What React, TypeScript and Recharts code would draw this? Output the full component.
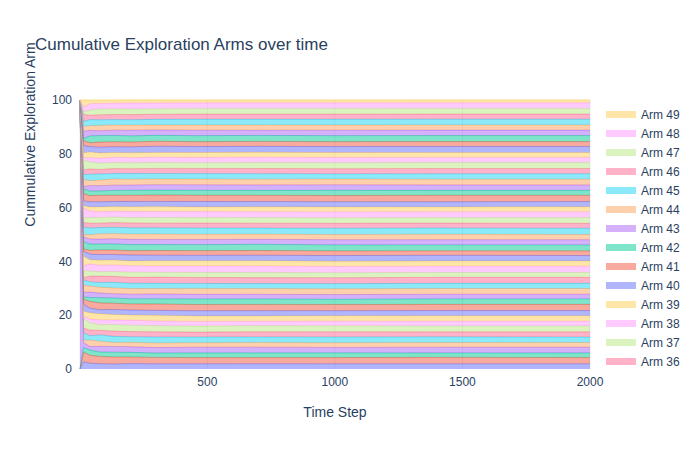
import { Area, AreaChart, CartesianGrid, XAxis, YAxis } from 'recharts'

document.body.style.margin = '0'

const steps = [1, 15, 40, 80, 130, 200, 300, 450, 700, 1000, 1400, 2000]

const arm00 = [0, 3, 2.5, 2.2, 2.0, 2.1, 2.0, 2.0, 2.0, 2.0, 2.0, 2.0]
const arm01 = [0, 4, 3.4, 3.0, 2.8, 2.6, 2.5, 2.4, 2.4, 2.4, 2.5, 2.4]
const arm02 = [0, 2, 2.2, 1.8, 1.9, 1.8, 1.7, 1.8, 1.8, 1.8, 1.7, 1.8]
const arm03 = [100, 2, 1.5, 2.4, 2.3, 2.2, 2.1, 2.2, 2.2, 2.1, 2.2, 2.2]
const arm04 = [0, 1, 2.8, 2.1, 1.6, 1.7, 1.8, 1.7, 1.8, 1.8, 1.8, 1.8]
const arm05 = [0, 3, 1.9, 2.6, 2.4, 2.2, 2.3, 2.2, 2.1, 2.2, 2.2, 2.1]
const arm06 = [0, 2, 2.4, 1.9, 2.1, 2.0, 2.0, 1.9, 2.0, 2.0, 1.9, 2.0]
const arm07 = [0, 4, 3.1, 2.3, 2.6, 2.5, 2.4, 2.3, 2.3, 2.3, 2.3, 2.3]
const arm08 = [0, 1, 1.6, 2.0, 1.8, 1.9, 1.8, 1.8, 1.7, 1.8, 1.8, 1.8]
const arm09 = [0, 2, 2.7, 2.5, 2.2, 2.1, 2.2, 2.1, 2.1, 2.1, 2.1, 2.1]
const arm10 = [0, 3, 2.0, 1.7, 2.0, 1.9, 1.9, 2.0, 2.0, 1.9, 2.0, 2.0]
const arm11 = [0, 2, 2.9, 2.8, 2.5, 2.4, 2.5, 2.4, 2.4, 2.4, 2.4, 2.4]
const arm12 = [0, 1, 1.7, 2.2, 2.1, 2.0, 2.0, 2.1, 2.1, 2.0, 2.1, 2.1]
const arm13 = [0, 2, 2.3, 1.9, 1.7, 1.8, 1.9, 1.8, 1.8, 1.8, 1.8, 1.8]
const arm14 = [0, 3, 2.6, 2.4, 2.3, 2.2, 2.1, 2.2, 2.2, 2.2, 2.2, 2.2]
const arm15 = [0, 2, 1.8, 2.0, 2.2, 2.1, 2.0, 2.0, 1.9, 2.0, 2.0, 2.0]
const arm16 = [0, 1, 2.5, 2.6, 2.4, 2.3, 2.4, 2.3, 2.3, 2.3, 2.3, 2.3]
const arm17 = [0, 3, 2.1, 1.8, 1.9, 2.0, 1.9, 1.9, 2.0, 1.9, 1.9, 1.9]
const arm18 = [0, 2, 3.0, 2.7, 2.6, 2.5, 2.4, 2.5, 2.5, 2.4, 2.4, 2.4]
const arm19 = [0, 4, 1.9, 2.1, 2.0, 1.9, 2.0, 2.0, 2.0, 2.0, 2.0, 2.0]
const arm20 = [0, 2, 2.4, 2.3, 2.2, 2.3, 2.2, 2.1, 2.1, 2.2, 2.2, 2.1]
const arm21 = [0, 1, 1.6, 1.9, 1.8, 1.7, 1.8, 1.8, 1.8, 1.8, 1.7, 1.8]
const arm22 = [0, 3, 2.7, 2.5, 2.4, 2.4, 2.3, 2.3, 2.4, 2.3, 2.3, 2.3]
const arm23 = [0, 2, 2.2, 2.0, 2.1, 2.0, 2.0, 2.0, 1.9, 2.0, 2.0, 2.0]
const arm24 = [0, 1, 1.8, 2.2, 2.0, 2.1, 2.1, 2.0, 2.0, 2.0, 2.1, 2.0]
const arm25 = [0, 3, 2.9, 2.6, 2.5, 2.4, 2.4, 2.4, 2.3, 2.4, 2.4, 2.4]
const arm26 = [0, 2, 2.0, 1.8, 1.9, 1.9, 1.8, 1.9, 1.9, 1.9, 1.9, 1.9]
const arm27 = [0, 2, 2.5, 2.3, 2.2, 2.1, 2.2, 2.1, 2.2, 2.1, 2.1, 2.2]
const arm28 = [0, 4, 2.8, 2.4, 2.3, 2.4, 2.3, 2.3, 2.2, 2.3, 2.3, 2.3]
const arm29 = [0, 1, 1.7, 2.0, 1.9, 1.8, 1.9, 1.8, 1.9, 1.9, 1.8, 1.9]
const arm30 = [0, 2, 2.3, 2.1, 2.0, 2.1, 2.0, 2.1, 2.0, 2.0, 2.0, 2.0]
const arm31 = [0, 3, 2.6, 2.7, 2.5, 2.4, 2.5, 2.4, 2.4, 2.4, 2.5, 2.4]
const arm32 = [0, 2, 1.9, 1.8, 1.9, 2.0, 1.9, 1.9, 1.9, 2.0, 1.9, 1.9]
const arm33 = [0, 1, 2.4, 2.2, 2.1, 2.0, 2.1, 2.1, 2.1, 2.1, 2.1, 2.1]
const arm34 = [0, 3, 2.1, 2.3, 2.4, 2.3, 2.2, 2.2, 2.2, 2.2, 2.2, 2.2]
const arm35 = [0, 2, 2.8, 2.5, 2.2, 2.2, 2.1, 2.1, 2.1, 2.0, 2.1, 2.1]
const arm36 = [0, 2, 2.2, 1.9, 2.0, 1.9, 2.0, 2.0, 2.0, 2.0, 2.0, 2.0]
const arm37 = [0, 4, 3.0, 2.6, 2.4, 2.3, 2.3, 2.2, 2.3, 2.3, 2.3, 2.3]
const arm38 = [0, 1, 1.8, 2.0, 2.1, 2.0, 2.0, 2.0, 2.0, 2.0, 2.0, 2.0]
const arm39 = [0, 2, 2.5, 2.2, 1.9, 1.9, 1.9, 1.9, 1.9, 1.9, 1.9, 1.9]
const arm40 = [0, 3, 2.3, 2.4, 2.3, 2.3, 2.4, 2.3, 2.3, 2.3, 2.3, 2.3]
const arm41 = [0, 2, 1.7, 2.1, 2.0, 1.9, 1.9, 1.9, 1.9, 1.9, 1.9, 1.9]
const arm42 = [0, 1, 2.9, 2.7, 2.5, 2.4, 2.3, 2.3, 2.3, 2.3, 2.3, 2.3]
const arm43 = [0, 3, 2.4, 2.0, 2.1, 2.2, 2.1, 2.1, 2.0, 2.1, 2.1, 2.1]
const arm44 = [0, 2, 2.0, 2.2, 2.0, 2.0, 1.9, 2.0, 2.0, 2.0, 2.0, 2.0]
const arm45 = [0, 2, 2.6, 2.3, 2.2, 2.1, 2.2, 2.2, 2.2, 2.2, 2.2, 2.2]
const arm46 = [0, 3, 1.9, 2.1, 2.0, 2.0, 2.0, 2.0, 2.0, 2.0, 2.0, 2.0]
const arm47 = [0, 1, 2.2, 2.4, 2.3, 2.2, 2.1, 2.1, 2.1, 2.1, 2.1, 2.1]
const arm48 = [0, 2, 2.7, 2.3, 2.2, 2.3, 2.2, 2.2, 2.2, 2.2, 2.2, 2.2]
const arm49 = [0, 3, 1.6, 1.4, 1.3, 1.2, 1.2, 1.1, 1.1, 1.1, 1.1, 1.1]

const arms = [
  arm00, arm01, arm02, arm03, arm04, arm05, arm06, arm07, arm08, arm09,
  arm10, arm11, arm12, arm13, arm14, arm15, arm16, arm17, arm18, arm19,
  arm20, arm21, arm22, arm23, arm24, arm25, arm26, arm27, arm28, arm29,
  arm30, arm31, arm32, arm33, arm34, arm35, arm36, arm37, arm38, arm39,
  arm40, arm41, arm42, arm43, arm44, arm45, arm46, arm47, arm48, arm49,
]

const legendArms = [49, 48, 47, 46, 45, 44, 43, 42, 41, 40, 39, 38, 37, 36]
const yTicks = [0, 0.2, 0.4, 0.6, 0.8, 1]
const xTicks = [500, 1000, 1500, 2000]

const palette = ['#636efa', '#EF553B', '#00cc96', '#ab63fa', '#FFA15A', '#19d3f3', '#FF6692', '#B6E880', '#FF97FF', '#FECB52']

const data = steps.map((t, i) => {
  const row: Record<string, number> = { t }
  arms.forEach((a, k) => (row[`Arm ${k}`] = a[i]))
  return row
})

const font = '"Liberation Sans", Arial, sans-serif'

export default function App() {
  return (
    <div style={{ position: 'relative', width: 700, height: 450, background: '#fff', fontFamily: font }}>
      <div style={{ position: 'absolute', left: 35, top: 35, fontSize: 17, color: '#2a3f5f' }}>
        Cumulative Exploration Arms over time
      </div>
      <AreaChart width={700} height={450} data={data} stackOffset="expand" margin={{ top: 100, right: 110, left: 26, bottom: 51 }}>
        <CartesianGrid vertical horizontal={false} stroke="#e5ecf6" />
        <XAxis
          dataKey="t"
          type="number"
          domain={[1, 2000]}
          ticks={xTicks}
          tickLine={false}
          axisLine={false}
          height={30}
          tick={{ fontSize: 12, fill: '#2a3f5f', fontFamily: font }}
          label={{ value: 'Time Step', position: 'insideBottom', offset: -18, fontSize: 14, fill: '#2a3f5f', fontFamily: font }}
        />
        <YAxis
          domain={[0, 1]}
          ticks={yTicks}
          tickFormatter={(v: number) => `${Math.round(v * 100)}`}
          tickLine={false}
          axisLine={false}
          width={54}
          tick={{ fontSize: 12, fill: '#2a3f5f', fontFamily: font }}
          label={{ value: 'Cummulative Exploration Arm', angle: -90, position: 'insideLeft', offset: 4, dy: -100, fontSize: 14, fill: '#2a3f5f', fontFamily: font, style: { textAnchor: 'middle' } }}
        />
        {arms.map((_, k) => (
          <Area
            key={k}
            type="linear"
            dataKey={`Arm ${k}`}
            stackId="1"
            stroke={palette[k % 10]}
            strokeWidth={0.6}
            fill={palette[k % 10]}
            fillOpacity={0.5}
            isAnimationActive={false}
          />
        ))}
      </AreaChart>
      <div style={{ position: 'absolute', left: 606, top: 105 }}>
        {legendArms.map((k) => (
          <div key={k} style={{ display: 'flex', alignItems: 'center', height: 19, fontSize: 12, color: '#2a3f5f' }}>
            <span style={{ display: 'inline-block', width: 30, height: 7, background: palette[k % 10], opacity: 0.5, marginRight: 5 }} />
            Arm {k}
          </div>
        ))}
      </div>
    </div>
  )
}
